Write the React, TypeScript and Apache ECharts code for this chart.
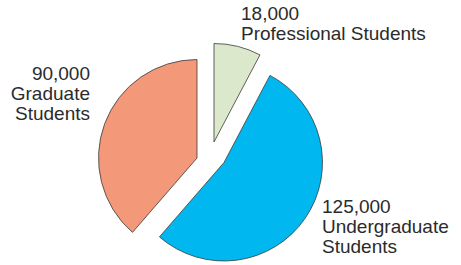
import React, { useEffect, useRef } from "react";
import * as echarts from "echarts";

const categories = ["Professional Students", "Undergraduate Students", "Graduate Students"];
const values = [18000, 125000, 90000];
const labelLines = [["Professional Students"], ["Undergraduate", "Students"], ["Graduate", "Students"]];
const colors = ["#DCE8CB", "#00B8EF", "#F4987A"];

export default function App() {
  const ref = useRef<HTMLDivElement>(null);
  useEffect(() => {
    if (!ref.current) return;
    const chart = echarts.init(ref.current, null, { renderer: "svg" });
    // each slice drawn by its own pie (exploded by a different amount)
    const centers: [number, number][] = [
      [214, 142],
      [224, 162.5],
      [197, 158],
    ];
    const series = categories.map((_, k) => ({
      type: "pie",
      center: centers[k],
      radius: [0, 98.5],
      startAngle: 90,
      clockwise: true,
      silent: true,
      label: { show: false },
      labelLine: { show: false },
      emphasis: { disabled: true },
      data: categories.map((name, i) => ({
        name,
        value: values[i],
        itemStyle:
          i === k
            ? { color: colors[i], borderColor: "#3a3a3a", borderWidth: 0.8 }
            : { color: "transparent", borderWidth: 0 },
      })),
    }));
    const fmt = (v: number) => v.toLocaleString("en-US");
    const font = "'Liberation Sans', Arial, Helvetica, sans-serif";
    const labelPos = [
      { x: 241, y: 3, align: "left" },
      { x: 322, y: 196, align: "left" },
      { x: 90, y: 63, align: "right" },
    ];
    const graphic = categories.map((_, i) => ({
      type: "text",
      x: labelPos[i].x,
      y: labelPos[i].y,
      style: {
        text: [fmt(values[i]), ...labelLines[i]].join("\n"),
        fill: "#2b2b2b",
        font: `19px ${font}`,
        fontSize: 19,
        fontFamily: font,
        lineHeight: 20,
        align: labelPos[i].align,
        verticalAlign: "top",
      },
    }));
    chart.setOption({
      animation: false,
      series,
      graphic,
    });
    return () => chart.dispose();
  }, []);
  return (
    <div
      ref={ref}
      style={{ position: "fixed", left: 0, top: 0, width: 461, height: 265, background: "#fff" }}
    />
  );
}
